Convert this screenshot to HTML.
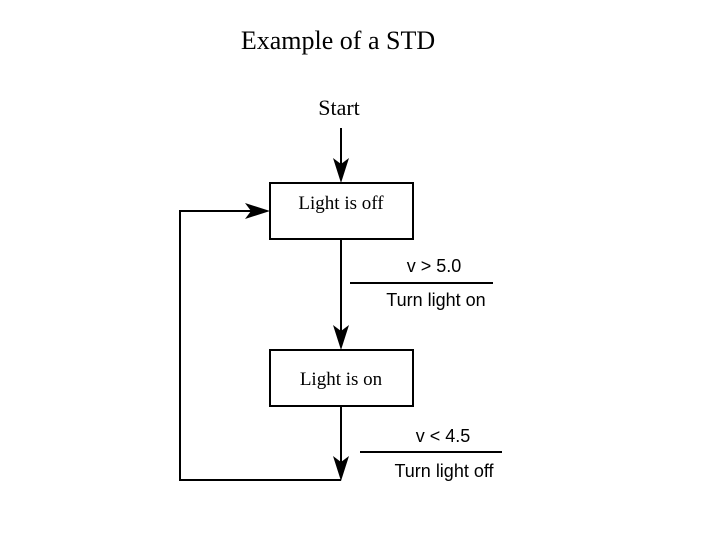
<!DOCTYPE html>
<html><head><style>body{margin:0;background:#fff}svg{display:block}</style></head>
<body>
<svg width="720" height="540" viewBox="0 0 720 540" xmlns="http://www.w3.org/2000/svg">
<g font-family="Liberation Serif, serif" fill="#000">
<text x="338" y="49" font-size="26" text-anchor="middle">Example of a STD</text>
<text x="339" y="115" font-size="22" text-anchor="middle">Start</text>
<text x="341" y="209" font-size="19" text-anchor="middle">Light is off</text>
<text x="341" y="385" font-size="19" text-anchor="middle">Light is on</text>
</g>
<g font-family="Liberation Sans, sans-serif" font-size="18" fill="#000" text-anchor="middle">
<text x="434" y="272">v &gt; 5.0</text>
<text x="436" y="306">Turn light on</text>
<text x="443" y="442">v &lt; 4.5</text>
<text x="444" y="477">Turn light off</text>
</g>
<g stroke="#000" stroke-width="2" fill="none">
<rect x="270" y="183" width="143" height="56"/>
<rect x="270" y="350" width="143" height="56"/>
<line x1="341" y1="128" x2="341" y2="180"/>
<line x1="341" y1="239" x2="341" y2="346"/>
<line x1="341" y1="406" x2="341" y2="478"/>
<polyline points="341,480 180,480 180,211 266,211"/>
<line x1="350" y1="283" x2="493" y2="283"/>
<line x1="360" y1="452" x2="502" y2="452"/>
</g>
<g fill="#000">
<polygon points="341,183 333,158 341,164 349,158"/>
<polygon points="341,350 333,325 341,331 349,325"/>
<polygon points="341,481 333,456 341,462 349,456"/>
<polygon points="270,211 245,203 251,211 245,219"/>
</g>
</svg>
</body></html>
